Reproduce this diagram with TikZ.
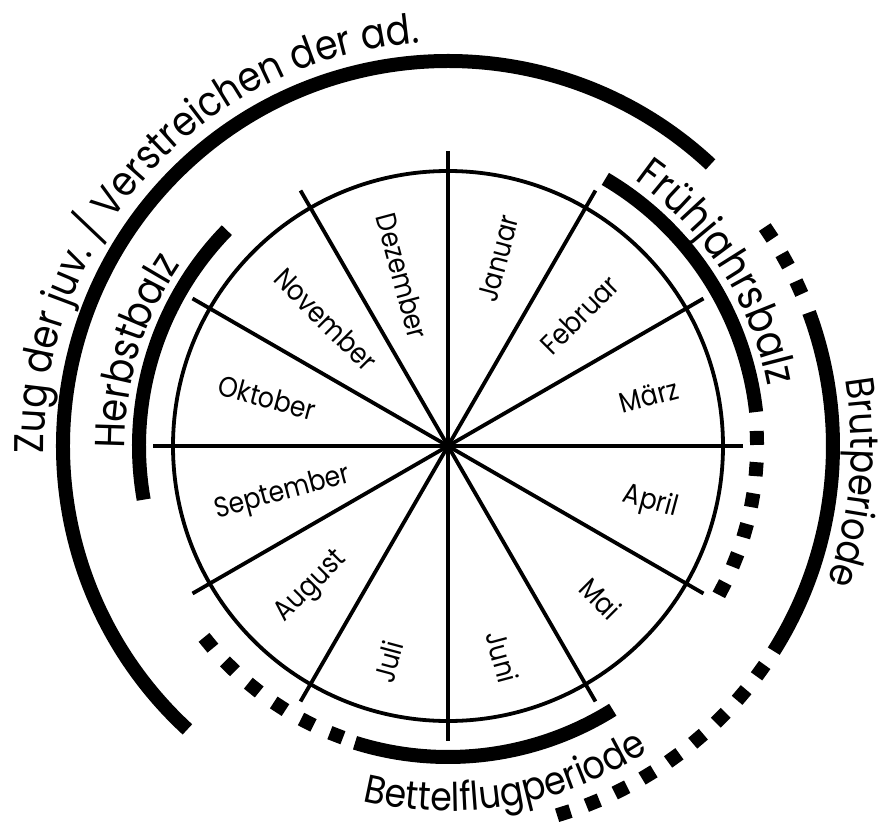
\documentclass[tikz,border=0pt]{standalone}
\usepackage{fontspec}
\setmainfont[FakeStretch=0.88]{Poppins}
\usetikzlibrary{decorations.text}
\newcommand\monthfont{\fontsize{28.5pt}{31pt}\selectfont}
\newcommand\zugfont{\fontsize{41.5pt}{44pt}\selectfont}
\newcommand\herbfont{\fontsize{42pt}{44pt}\selectfont}
\newcommand\fruefont{\fontsize{43pt}{46pt}\selectfont}
\newcommand\brutfont{\fontsize{40pt}{42pt}\selectfont}
\newcommand\bettfont{\fontsize{39.5pt}{41pt}\selectfont}
\begin{document}
\begin{tikzpicture}[x=1pt,y=1pt,
  thinline/.style={line width=3.8pt},
  band/.style={line width=14pt},
  sq/.style={fill=black, minimum size=14pt, inner sep=0pt, outer sep=0pt},
  month/.style={font=\monthfont, inner sep=0pt}]
\useasboundingbox (-448pt,-379pt) rectangle (434pt,446pt);
\coordinate (c) at (0pt,0pt);
% wheel
\draw[thinline] (c) circle[radius=275pt];
\foreach \a in {0,30,...,150}
  \draw[thinline] (\a:295pt) -- (\a+180:295pt);
% months
\node[month, rotate=75]  (jan) at (75:194pt)   {Januar};
\node[month, rotate=45]  (feb) at (45:186pt)   {Februar};
\node[month, rotate=15]  (mar) at (14:207pt)   {März};
\node[month, rotate=-15] (apr) at (-15.5:210pt) {April};
\node[month, rotate=-45] (mai) at (-45:216pt)  {Mai};
\node[month, rotate=-75] (jun) at (-75.5:218pt) {Juni};
\node[month, rotate=75]  (jul) at (-105.5:224pt) {Juli};
\node[month, rotate=45]  (aug) at (-134:196pt) {August};
\node[month, rotate=15]  (sep) at (-164:172pt) {September};
\node[month, rotate=-15] (okt) at (165:187pt)  {Oktober};
\node[month, rotate=-45] (nov) at (134:176pt)  {November};
\node[month, rotate=-75] (dez) at (105:176pt)  {Dezember};
% bands
\draw[band] (47:385pt) arc[start angle=47, end angle=227.4, radius=385pt];
\draw[band] (135.7:309pt) arc[start angle=135.7, end angle=190, radius=309pt];
\draw[band] (59.5:310pt) arc[start angle=59.5, end angle=6.3, radius=310pt];
\draw[band] (20.3:385pt) arc[start angle=20.3, end angle=-32.2, radius=385pt];
\draw[band] (-58:311pt) arc[start angle=-58, end angle=-107.4, radius=311pt];
% dotted parts
\foreach \a in {1.5,-4.3,-10.1,-15.9,-21.7,-27.5}
  \node[sq, rotate=\a] at (\a:309pt) {};
\foreach \a in {33.6,28.9,24.3}
  \node[sq, rotate=\a] at (\a:385pt) {};
\foreach \a in {-35.7,-40.3,-44.9,-49.5,-54.1,-58.7,-63.3,-67.9,-72.5}
  \node[sq, rotate=\a] at (\a:385pt) {};
\foreach \a in {-111.1,-117.0,-122.9,-128.8,-134.7,-140.6}
  \node[sq, rotate=\a] at (\a:310pt) {};
% arc labels
\path[decorate, decoration={text along path, text align=left,
  text={|\zugfont|Zug der juv. / Verstreichen der ad.}}]
  (181:404pt) arc[start angle=181, end angle=40, radius=404pt];
\path[decorate, decoration={text along path, text align=left,
  text={|\herbfont|Herbstbalz}}]
  (180.5:323pt) arc[start angle=180.5, end angle=100, radius=323pt];
\path[decorate, decoration={text along path, text align=left,
  text={|\fruefont|Frühjahrsbalz}}]
  (55:325pt) arc[start angle=55, end angle=-20, radius=325pt];
\path[decorate, decoration={text along path, text align=left,
  text={|\brutfont|Brutperiode}}]
  (9.5:403pt) arc[start angle=9.5, end angle=-50, radius=403pt];
\path[decorate, decoration={text along path, text align=left,
  text={|\bettfont|Bettelflugperiode}}]
  (-103.5:365pt) arc[start angle=-103.5, end angle=-30, radius=365pt];
\end{tikzpicture}
\end{document}
